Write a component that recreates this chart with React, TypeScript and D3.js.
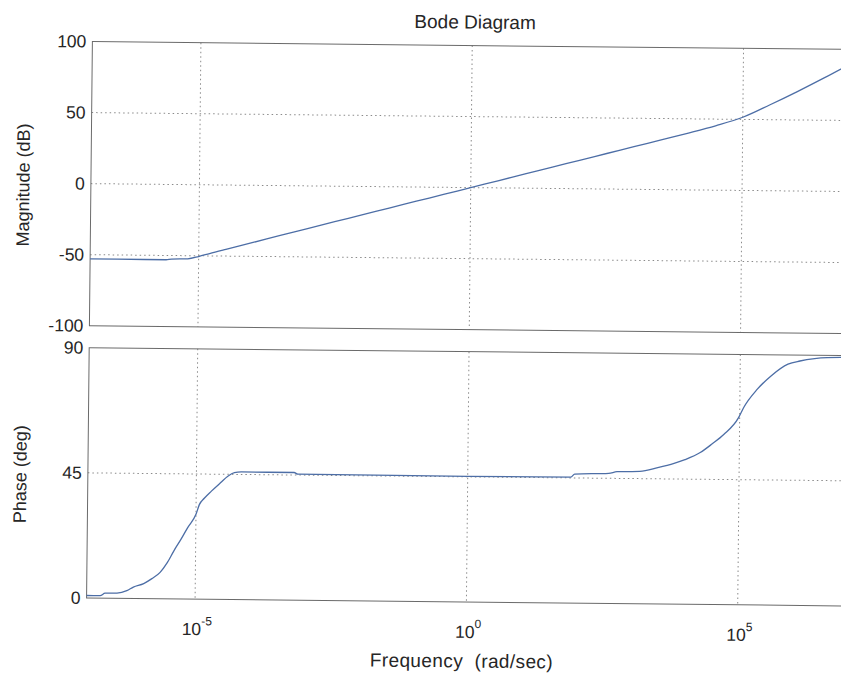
import React from "react";
import * as d3 from "d3";

// Frequency response read as (log10 ω, value) pairs
const magLogW = [-7, -6.5, -6, -5.6, -5.5, -5.2, -5.0, -4.8, -4.5, -4.0, -3.5, -3.0, -2.5, -2.0, -1.5, -1.0, -0.5, 0, 0.5, 1, 1.5, 2, 2.5, 3, 3.5, 4, 4.5, 5, 5.5, 6, 6.5, 7];
const magDb = [-53, -53, -53, -53, -52.5, -52.2, -50.5, -48.3, -45.2, -40.2, -35, -30, -25, -20, -15, -10, -5, 0, 5, 10, 15, 20, 25, 30, 35, 40, 45.3, 51.5, 60.5, 70, 80, 90.5];

const phaseLogW = [-7.0, -6.75, -6.66, -6.44, -6.26, -6.14, -5.95, -5.8, -5.65, -5.52, -5.4, -5.27, -5.15, -5.0, -4.94, -4.85, -4.72, -4.55, -4.42, -4.3, -4.17, -3.2, -3.13, 0, 1.9, 1.97, 2.6, 2.75, 3.17, 3.5, 3.8, 4.0, 4.28, 4.5, 4.71, 4.98, 5.07, 5.32, 5.57, 5.88, 6.1, 6.37, 6.6, 7.0];
const phaseDeg = [0.9, 0.9, 1.8, 1.9, 2.8, 4.1, 5.4, 7.2, 9.5, 13, 17.3, 21.5, 25.7, 30.5, 34, 36.3, 38.9, 42, 44.3, 45.6, 45.9, 45.9, 45.3, 45.2, 45.3, 46.4, 46.8, 47.4, 47.6, 49, 50.6, 52, 54.6, 57.8, 61.2, 67.3, 70.9, 77.6, 82.4, 86.7, 87.9, 88.8, 89.2, 89.4];

const freqTicks = [-5, 0, 5];
const magTicks = [-100, -50, 0, 50, 100];
const phaseTicks = [0, 45, 90];

const W = 841;
const H = 675;
const left = 89.5;
const right = 849.2;
const magTop = 45.5;
const magBottom = 329.7;
const phTop = 351.7;
const phBottom = 602;

const FONT = "'Liberation Sans', Arial, Helvetica, sans-serif";
const TEXT = "#262626";
const BOX = "#6a6a6a";
const GRID = "#8a8a8a";
const CURVE = "#4d6ea6";

export default function App() {
  const x = d3.scaleLog().domain([1e-7, 1e7]).range([left, right]);
  const yMag = d3.scaleLinear().domain([-100, 100]).range([magBottom, magTop]);
  const yPh = d3.scaleLinear().domain([0, 90]).range([phBottom, phTop]);

  const magPts = magLogW.map((l, i) => [Math.pow(10, l), magDb[i]] as [number, number]);
  const phPts = phaseLogW.map((l, i) => [Math.pow(10, l), phaseDeg[i]] as [number, number]);

  const magLine = d3
    .line<[number, number]>()
    .x((d) => x(d[0]))
    .y((d) => yMag(d[1]))
    .curve(d3.curveMonotoneX);
  const phLine = d3
    .line<[number, number]>()
    .x((d) => x(d[0]))
    .y((d) => yPh(d[1]))
    .curve(d3.curveMonotoneX);

  const panel = (
    key: string,
    top: number,
    bottom: number,
    ticks: number[],
    y: d3.ScaleLinear<number, number>,
    path: string,
    label: string
  ) => (
    <g key={key}>
      {/* horizontal grid */}
      {ticks.map((t) =>
        y(t) > top + 1 && y(t) < bottom - 1 ? (
          <line key={"h" + t} x1={left} x2={right} y1={y(t)} y2={y(t)} stroke={GRID} strokeWidth={1} strokeDasharray="1.5,3" />
        ) : null
      )}
      {/* vertical grid */}
      {freqTicks.map((e) => (
        <line key={"v" + e} x1={x(Math.pow(10, e))} x2={x(Math.pow(10, e))} y1={top} y2={bottom} stroke={GRID} strokeWidth={1} strokeDasharray="1.5,3" />
      ))}
      {/* axes box */}
      <rect x={left} y={top} width={right - left} height={bottom - top} fill="none" stroke={BOX} strokeWidth={1} />
      {/* y tick labels */}
      {ticks.map((t) => (
        <text key={"l" + t} x={left - 6} y={y(t)} textAnchor="end" dominantBaseline="central" fontSize={17.5} fill={TEXT} fontFamily={FONT}>
          {t}
        </text>
      ))}
      <path d={path} fill="none" stroke={CURVE} strokeWidth={1.3} />
      <text
        transform={`translate(22,${(top + bottom) / 2 + 2}) rotate(-90)`}
        textAnchor="middle"
        dominantBaseline="central"
        fontSize={18}
        fill={TEXT}
        fontFamily={FONT}
      >
        {label}
      </text>
    </g>
  );

  return (
    <svg width={W} height={H} style={{ position: "absolute", left: 0, top: 0, background: "#fff" }}>
      <rect x={0} y={0} width={W} height={H} fill="#fff" />
      <g transform="rotate(0.6, 470, 320)">
        <text x={472} y={22} textAnchor="middle" dominantBaseline="central" fontSize={19} fill={TEXT} fontFamily={FONT}>
          Bode Diagram
        </text>
        {panel("mag", magTop, magBottom, magTicks, yMag, magLine(magPts) || "", "Magnitude (dB)")}
        {panel("ph", phTop, phBottom, phaseTicks, yPh, phLine(phPts) || "", "Phase (deg)")}
        {/* frequency tick labels */}
        {freqTicks.map((e) => (
          <text key={"f" + e} x={x(Math.pow(10, e)) + 2} y={632} textAnchor="middle" dominantBaseline="central" fontSize={17.5} fill={TEXT} fontFamily={FONT}>
            10
            <tspan dy={-8} fontSize={12}>{e}</tspan>
          </text>
        ))}
        <text x={465} y={661} textAnchor="middle" dominantBaseline="central" fontSize={19} letterSpacing={0.4} fill={TEXT} fontFamily={FONT} style={{ whiteSpace: "pre" }}>
          {"Frequency  (rad/sec)"}
        </text>
      </g>
    </svg>
  );
}
